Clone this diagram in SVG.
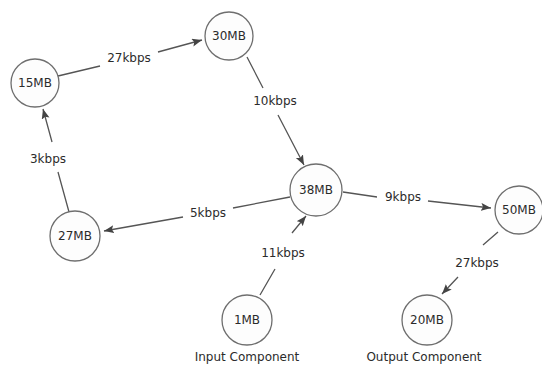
<svg xmlns="http://www.w3.org/2000/svg" width="542" height="367" viewBox="0 0 542 367">
<style>
text{font-family:"DejaVu Sans","Liberation Sans",sans-serif;font-size:12px;fill:#2b2b2b;text-anchor:middle}
.n circle{fill:#fdfdfd;stroke:#6e6e6e;stroke-width:1.3}
.e path{fill:none;stroke:#555;stroke-width:1.3;marker-end:url(#ah)}
</style>
<defs>
<marker id="ah" markerUnits="userSpaceOnUse" markerWidth="11" markerHeight="9" refX="10" refY="4" orient="auto">
<path d="M0,0 L10,4 L0,8 L2,4 z" fill="#444"/>
</marker>
</defs>
<rect width="542" height="367" fill="#fff"/>
<g id="connectors" class="e">
<path d="M58,76 L100,66 M158,52 L202,40"/>
<path d="M247,57 L263,88 M278,115 L304,165"/>
<path d="M290,197 L233,208 M183,217 L104,231"/>
<path d="M69,212 L58,172 M52,142 L43,109"/>
<path d="M343,192 L377,197 M428,201 L491,208"/>
<path d="M260,295 L275,269 M292,233 L306,216"/>
<path d="M498,232 L483,245 M458,277 L442,294"/>
</g>
<g id="edge-labels">
<text x="129" y="62">27kbps</text>
<text x="275" y="105">10kbps</text>
<text x="208" y="217">5kbps</text>
<text x="48" y="163">3kbps</text>
<text x="403" y="201">9kbps</text>
<text x="283" y="257">11kbps</text>
<text x="477" y="267">27kbps</text>
</g>
<g id="n15" class="n"><circle cx="35" cy="83" r="24"/><text x="35" y="87">15MB</text></g>
<g id="n30" class="n"><circle cx="229" cy="36" r="24"/><text x="229" y="40">30MB</text></g>
<g id="n38" class="n"><circle cx="316" cy="190" r="26"/><text x="316" y="194">38MB</text></g>
<g id="n50" class="n"><circle cx="519" cy="210" r="24"/><text x="519" y="214">50MB</text></g>
<g id="n27" class="n"><circle cx="75" cy="236" r="25"/><text x="75" y="240">27MB</text></g>
<g id="n1" class="n"><circle cx="247" cy="320" r="25"/><text x="247" y="324">1MB</text></g>
<g id="n20" class="n"><circle cx="427" cy="320" r="25"/><text x="427" y="324">20MB</text></g>
<g id="captions">
<text x="247" y="361">Input Component</text>
<text x="424" y="361">Output Component</text>
</g>
</svg>
